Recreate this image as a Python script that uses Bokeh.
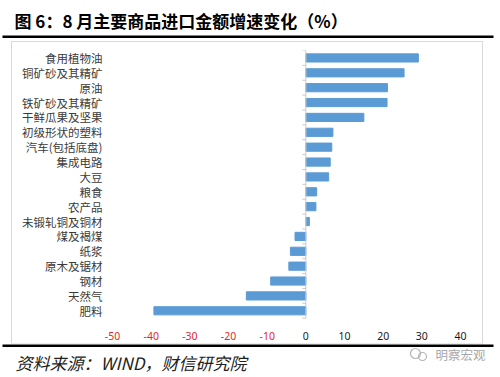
from bokeh.plotting import figure
from bokeh.models import FixedTicker, ColumnDataSource, Range1d, Spacer
from bokeh.layouts import column, row
from bokeh.core.properties import value
from bokeh.embed import file_html
from bokeh.resources import INLINE

categories = ["食用植物油", "铜矿砂及其精矿", "原油", "铁矿砂及其精矿", "干鲜瓜果及坚果",
              "初级形状的塑料", "汽车(包括底盘)", "集成电路", "大豆", "粮食", "农产品",
              "未锻轧铜及铜材", "煤及褐煤", "纸浆", "原木及锯材", "钢材", "天然气", "肥料"]
values = [29.1, 25.4, 21.1, 21.0, 15.0, 7.0, 6.7, 6.3, 5.9, 2.8, 2.6, 0.9,
          -2.8, -4.0, -4.4, -9.1, -15.4, -39.3]
x_ticks = [-50, -40, -30, -20, -10, 0, 10, 20, 30, 40]
title_text = "图 6：8 月主要商品进口金额增速变化（%）"
source_text = "资料来源：WIND，财信研究院"
watermark_text = "明察宏观"

CJK = value("Noto Sans CJK SC")


def blank_fig(w, h):
    f = figure(width=w, height=h, output_backend="svg", toolbar_location=None,
               x_range=Range1d(0, w), y_range=Range1d(h, 0),
               min_border=0, min_border_left=0, min_border_right=0,
               min_border_top=0, min_border_bottom=0, frame_align=False)
    f.axis.visible = False
    f.grid.visible = False
    f.outline_line_color = None
    return f


# ---------- header (title + rule) ----------
head = blank_fig(500, 40)
head.text(x=[14], y=[20], text=[title_text], text_font=CJK, text_font_style="bold",
          text_font_size="17px", text_baseline="middle", text_color="black")
head.quad(left=[2], right=[493], top=[35], bottom=[37.5], fill_color="black", line_color=None)

# ---------- main chart ----------
n = len(categories)
ypos = [n - 1 - i for i in range(n)]
src = ColumnDataSource(dict(y=ypos, v=values, cat=categories))

p = figure(width=470, height=301, output_backend="svg", toolbar_location=None,
           x_range=(-52.6, 43.1), y_range=(-2.2, n - 0.5),
           min_border_left=90, min_border_right=10, min_border_top=8, min_border_bottom=0,
           frame_align=False)
p.styles = {"outline": "1px solid #d9d9d9"}
p.outline_line_color = None
p.xgrid.visible = False
p.ygrid.visible = False
p.xaxis.visible = False

p.hbar(y="y", left=0, right="v", height=0.55, color="#5b9bd5", source=src)

# zero axis line with category-boundary ticks
bounds = [b - 0.5 for b in range(n + 1)]
p.segment(x0=[0], x1=[0], y0=[bounds[0]], y1=[bounds[-1]], line_color="#c9c9c9", line_width=1)
p.segment(x0=[-0.9] * len(bounds), x1=[0] * len(bounds), y0=bounds, y1=bounds,
          line_color="#c9c9c9", line_width=1)

# y axis (category labels)
ya = p.yaxis[0]
ya.ticker = FixedTicker(ticks=ypos)
ya.major_label_overrides = {y: c for y, c in zip(ypos, categories)}
ya.axis_line_color = None
ya.major_tick_line_color = None
ya.minor_tick_line_color = None
ya.major_tick_out = 0
ya.major_tick_in = 0
ya.major_label_standoff = 0
ya.major_label_text_font = "Noto Sans CJK SC"
ya.major_label_text_font_size = "11.5px"
ya.major_label_text_color = "#3a3a3a"

# x tick labels: negatives red, others black
label_row = -0.5 - 1.17
tick_src = ColumnDataSource(dict(
    x=x_ticks, y=[label_row] * len(x_ticks), t=[str(v) for v in x_ticks],
    c=["#e3262c" if v < 0 else "#1a1a1a" for v in x_ticks]))
p.text(x="x", y="y", text="t", text_color="c", source=tick_src,
       text_font=value("Noto Sans"), text_font_size="10.5px",
       text_align="center", text_baseline="middle")

# ---------- footer (rule + source + watermark) ----------
foot = blank_fig(500, 34)
foot.quad(left=[2], right=[493], top=[1], bottom=[3.5], fill_color="black", line_color=None)
foot.text(x=[15], y=[19], text=[source_text], text_font=CJK, text_font_style="italic",
          text_font_size="17px", text_baseline="middle", text_color="#222222")
foot.circle(x=[415, 422], y=[10, 13], radius=[5, 4], fill_color=None,
            line_color="#b5b5b5", line_width=1.2)
foot.text(x=[485], y=[11], text=[watermark_text], text_font=CJK, text_font_size="12.5px",
          text_align="right", text_baseline="middle", text_color="#a8a8a8")

main_row = row(Spacer(width=12, height=301), p, Spacer(width=18, height=301), spacing=0)
layout = column(head, Spacer(width=500, height=2), main_row, foot, spacing=0)
open("out.html", "w").write(file_html(layout, INLINE))
